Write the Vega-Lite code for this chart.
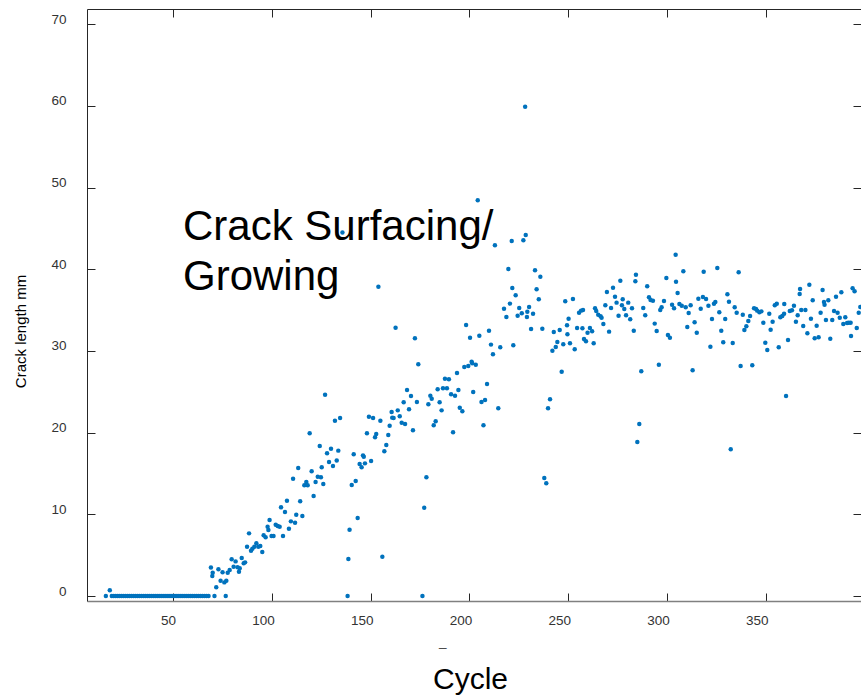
{
  "$schema": "https://vega.github.io/schema/vega-lite/v6.json",
  "autosize": "none",
  "width": 774,
  "height": 592,
  "padding": {"left": 87, "top": 9, "right": 0, "bottom": 94},
  "background": "white",
  "config": {
    "view": {"stroke": null},
    "font": "Liberation Sans",
    "axis": {"grid": false, "labelFont": "Liberation Sans", "titleFont": "Liberation Sans"}
  },
  "datasets": {
    "crack": [
      {"cycle":16,"crack":0},{"cycle":18,"crack":0.7},{"cycle":19,"crack":0},{"cycle":20,"crack":0},{"cycle":21,"crack":0},{"cycle":22,"crack":0},{"cycle":23,"crack":0},{"cycle":24,"crack":0},{"cycle":25,"crack":0},{"cycle":26,"crack":0},{"cycle":27,"crack":0},{"cycle":28,"crack":0},{"cycle":29,"crack":0},{"cycle":30,"crack":0},{"cycle":31,"crack":0},{"cycle":32,"crack":0},{"cycle":33,"crack":0},{"cycle":34,"crack":0},{"cycle":35,"crack":0},{"cycle":36,"crack":0},{"cycle":37,"crack":0},{"cycle":38,"crack":0},{"cycle":39,"crack":0},{"cycle":40,"crack":0},{"cycle":41,"crack":0},{"cycle":42,"crack":0},{"cycle":43,"crack":0},{"cycle":44,"crack":0},{"cycle":45,"crack":0},{"cycle":46,"crack":0},{"cycle":47,"crack":0},{"cycle":48,"crack":0},{"cycle":49,"crack":0},{"cycle":50,"crack":0},{"cycle":51,"crack":0},{"cycle":52,"crack":0},{"cycle":53,"crack":0},{"cycle":54,"crack":0},{"cycle":55,"crack":0},{"cycle":56,"crack":0},{"cycle":57,"crack":0},{"cycle":58,"crack":0},{"cycle":59,"crack":0},{"cycle":60,"crack":0},{"cycle":61,"crack":0},{"cycle":62,"crack":0},{"cycle":63,"crack":0},{"cycle":64,"crack":0},{"cycle":65,"crack":0},{"cycle":66,"crack":0},{"cycle":67,"crack":0},{"cycle":68,"crack":0},
      {"cycle":69.2,"crack":3.5},{"cycle":70.1,"crack":2.86},{"cycle":69.9,"crack":2.45},{"cycle":71.0,"crack":0},{"cycle":76.7,"crack":0},{"cycle":71.9,"crack":1.06},{"cycle":73.0,"crack":3.27},{"cycle":74.1,"crack":1.88},{"cycle":75.1,"crack":2.9},{"cycle":76.0,"crack":1.67},{"cycle":77.0,"crack":1.88},{"cycle":77.7,"crack":2.86},{"cycle":78.7,"crack":3.18},{"cycle":79.7,"crack":4.49},{"cycle":80.7,"crack":3.59},{"cycle":81.7,"crack":4.24},{"cycle":82.7,"crack":3.51},{"cycle":83.4,"crack":2.98},{"cycle":83.8,"crack":3.39},{"cycle":84.8,"crack":4.65},{"cycle":85.8,"crack":4.0},{"cycle":86.5,"crack":4.12},{"cycle":87.5,"crack":6.04},{"cycle":88.5,"crack":7.67},{"cycle":89.5,"crack":5.55},{"cycle":90.2,"crack":5.8},{"cycle":91.2,"crack":6.04},{"cycle":92.2,"crack":6.45},{"cycle":93.2,"crack":6.04},{"cycle":94.2,"crack":6.12},{"cycle":95.2,"crack":5.39},{"cycle":95.9,"crack":7.43},{"cycle":96.9,"crack":7.19},{"cycle":97.9,"crack":8.49},{"cycle":98.3,"crack":8.08},{"cycle":98.9,"crack":9.3},{"cycle":99.9,"crack":7.35},{"cycle":100.9,"crack":7.35},{"cycle":102.0,"crack":8.73},{"cycle":103.0,"crack":8.57},{"cycle":104.0,"crack":8.49},{"cycle":104.7,"crack":10.86},{"cycle":105.7,"crack":7.35},{"cycle":106.7,"crack":10.29},{"cycle":107.7,"crack":11.67},{"cycle":108.7,"crack":8.24},{"cycle":109.7,"crack":9.14},{"cycle":110.8,"crack":14.37},{"cycle":111.8,"crack":8.98},{"cycle":112.4,"crack":9.96},{"cycle":113.4,"crack":15.67},{"cycle":114.4,"crack":11.6},{"cycle":115.5,"crack":9.8},{"cycle":116.5,"crack":13.55},{"cycle":117.5,"crack":13.96},{"cycle":118.2,"crack":13.55},{"cycle":119.2,"crack":19.92},{"cycle":120.2,"crack":15.27},{"cycle":121.2,"crack":12.24},{"cycle":122.2,"crack":13.96},{"cycle":123.3,"crack":14.61},{"cycle":124.3,"crack":18.37},{"cycle":124.9,"crack":14.53},{"cycle":125.3,"crack":15.76},{"cycle":126.1,"crack":13.71},{"cycle":127.0,"crack":24.65},{"cycle":128.0,"crack":17.47},{"cycle":129.0,"crack":16.4},{"cycle":130.0,"crack":18.04},{"cycle":131.0,"crack":15.92},{"cycle":132.0,"crack":21.45},{"cycle":132.9,"crack":16.6},{"cycle":133.7,"crack":17.8},{"cycle":134.6,"crack":21.8},{"cycle":135.8,"crack":44.5},
      {"cycle":138.4,"crack":0},{"cycle":138.8,"crack":4.53},{"cycle":139.4,"crack":8.12},{"cycle":140.5,"crack":13.59},{"cycle":141.5,"crack":17.35},{"cycle":142.5,"crack":14.08},{"cycle":143.5,"crack":9.55},{"cycle":144.5,"crack":16.16},{"cycle":145.5,"crack":15.76},{"cycle":146.2,"crack":17.22},{"cycle":146.6,"crack":17.06},{"cycle":147.2,"crack":16.24},{"cycle":148.2,"crack":19.92},{"cycle":149.2,"crack":21.96},{"cycle":150.3,"crack":16.53},{"cycle":151.3,"crack":21.8},{"cycle":152.3,"crack":19.43},{"cycle":152.9,"crack":19.84},{"cycle":154.0,"crack":37.87},{"cycle":155.0,"crack":21.47},{"cycle":156.0,"crack":4.82},{"cycle":157.0,"crack":17.72},{"cycle":158.0,"crack":18.49},{"cycle":159.0,"crack":19.71},{"cycle":159.7,"crack":20.85},{"cycle":160.7,"crack":22.53},{"cycle":161.0,"crack":21.84},{"cycle":161.7,"crack":21.8},{"cycle":162.7,"crack":32.85},{"cycle":163.8,"crack":22.73},{"cycle":164.8,"crack":22.0},{"cycle":165.8,"crack":21.22},{"cycle":166.8,"crack":23.71},{"cycle":167.5,"crack":21.06},{"cycle":168.5,"crack":25.22},{"cycle":169.5,"crack":22.86},{"cycle":170.5,"crack":24.49},{"cycle":171.5,"crack":20.29},{"cycle":172.5,"crack":31.55},{"cycle":173.5,"crack":23.75},{"cycle":174.2,"crack":28.37},{"cycle":176.3,"crack":0},{"cycle":177.2,"crack":10.81},{"cycle":178.3,"crack":14.53},{"cycle":179.3,"crack":23.47},{"cycle":180.3,"crack":24.53},{"cycle":181.0,"crack":24.16},{"cycle":182.0,"crack":20.9},{"cycle":183.0,"crack":21.39},{"cycle":184.0,"crack":25.31},{"cycle":185.0,"crack":23.71},{"cycle":186.0,"crack":22.73},{"cycle":186.7,"crack":25.43},{"cycle":187.7,"crack":26.61},{"cycle":188.7,"crack":25.43},{"cycle":189.7,"crack":26.53},{"cycle":190.8,"crack":24.69},{"cycle":191.8,"crack":20.04},{"cycle":192.8,"crack":24.53},{"cycle":193.8,"crack":27.3},{"cycle":194.5,"crack":25.22},{"cycle":195.2,"crack":23.06},{"cycle":196.5,"crack":22.61},{"cycle":197.5,"crack":28.04},{"cycle":198.4,"crack":33.18},{"cycle":199.5,"crack":28.16},{"cycle":200.4,"crack":31.63},{"cycle":201.2,"crack":28.69},{"cycle":201.5,"crack":28.49},{"cycle":202.0,"crack":24.98},{"cycle":203.3,"crack":28.32},{"cycle":204.3,"crack":48.45},{"cycle":205.1,"crack":31.87},{"cycle":206.2,"crack":23.75},{"cycle":207.2,"crack":20.9},{"cycle":208.0,"crack":24.0},{"cycle":209.0,"crack":25.96},{"cycle":210.0,"crack":32.49},{"cycle":211.0,"crack":30.78},{"cycle":212.0,"crack":29.59},{"cycle":213.0,"crack":42.94},{"cycle":214.7,"crack":22.98},{"cycle":215.7,"crack":30.45},{"cycle":217.6,"crack":35.18},{"cycle":218.8,"crack":34.16},{"cycle":219.8,"crack":40.04},{"cycle":220.6,"crack":35.8},{"cycle":221.5,"crack":43.47},{"cycle":221.8,"crack":37.71},{"cycle":222.3,"crack":30.69},{"cycle":223.5,"crack":36.82},{"cycle":224.5,"crack":34.32},{"cycle":225.3,"crack":35.26},{"cycle":226.6,"crack":34.61},{"cycle":227.4,"crack":43.55},{"cycle":228.3,"crack":59.9},{"cycle":228.6,"crack":44.2},{"cycle":229.2,"crack":34.16},{"cycle":229.4,"crack":34.81},{"cycle":230.3,"crack":35.39},{"cycle":231.3,"crack":32.69},{"cycle":232.3,"crack":34.57},{"cycle":233.3,"crack":39.88},{"cycle":234.1,"crack":37.55},{"cycle":235.2,"crack":36.33},{"cycle":236.0,"crack":39.1},{"cycle":237.0,"crack":32.73},{"cycle":238.0,"crack":14.45},{"cycle":239.0,"crack":13.8},{"cycle":239.9,"crack":22.98},{"cycle":240.9,"crack":24.08},{"cycle":242.1,"crack":30.04},{"cycle":242.8,"crack":32.33},{"cycle":243.8,"crack":30.49},{"cycle":244.6,"crack":31.1},{"cycle":245.8,"crack":32.57},{"cycle":246.8,"crack":27.47},{"cycle":247.6,"crack":30.82},{"cycle":248.6,"crack":36.08},{"cycle":249.5,"crack":33.14},{"cycle":249.7,"crack":32.04},{"cycle":250.3,"crack":33.96},{"cycle":251.0,"crack":30.94},
      {"cycle":252.5,"crack":36.37},{"cycle":253.4,"crack":30.2},{"cycle":254.6,"crack":32.82},{"cycle":255.6,"crack":34.69},{"cycle":256.6,"crack":34.94},{"cycle":257.3,"crack":32.78},{"cycle":257.6,"crack":35.02},{"cycle":258.1,"crack":31.47},{"cycle":259.1,"crack":31.18},{"cycle":259.9,"crack":32.24},{"cycle":261.1,"crack":32.82},{"cycle":262.2,"crack":32.41},{"cycle":263.0,"crack":30.94},{"cycle":263.7,"crack":35.22},{"cycle":264.3,"crack":34.9},{"cycle":265.3,"crack":34.44},{"cycle":266.5,"crack":34.25},{"cycle":267.0,"crack":34.08},{"cycle":267.9,"crack":33.3},{"cycle":268.9,"crack":35.59},{"cycle":269.7,"crack":37.22},{"cycle":270.8,"crack":32.37},{"cycle":271.8,"crack":35.26},{"cycle":272.8,"crack":37.75},{"cycle":273.8,"crack":36.65},{"cycle":274.6,"crack":35.92},{"cycle":275.6,"crack":34.32},{"cycle":276.5,"crack":38.61},{"cycle":277.3,"crack":35.59},{"cycle":277.7,"crack":36.33},{"cycle":278.5,"crack":35.14},{"cycle":279.4,"crack":34.37},{"cycle":280.5,"crack":35.92},{"cycle":281.5,"crack":33.88},{"cycle":282.4,"crack":35.22},{"cycle":283.3,"crack":32.49},{"cycle":284.1,"crack":38.53},{"cycle":284.4,"crack":39.34},{"cycle":285.1,"crack":18.86},{"cycle":286.1,"crack":21.06},{"cycle":287.1,"crack":27.51},{"cycle":288.1,"crack":35.26},{"cycle":289.1,"crack":34.37},{"cycle":290.1,"crack":37.92},{"cycle":291.0,"crack":36.57},{"cycle":291.8,"crack":36.24},{"cycle":293.0,"crack":36.16},{"cycle":293.9,"crack":33.35},{"cycle":294.9,"crack":32.45},{"cycle":296.0,"crack":28.32},{"cycle":296.7,"crack":35.02},{"cycle":297.4,"crack":35.35},{"cycle":298.6,"crack":36.12},{"cycle":299.8,"crack":38.94},{"cycle":300.6,"crack":31.96},{"cycle":301.6,"crack":31.63},{"cycle":302.7,"crack":35.67},{"cycle":303.7,"crack":35.22},{"cycle":304.5,"crack":41.79},{"cycle":304.7,"crack":38.49},{"cycle":305.5,"crack":37.1},{"cycle":306.4,"crack":35.75},{"cycle":307.6,"crack":35.55},{"cycle":308.4,"crack":39.76},{"cycle":309.6,"crack":35.35},{"cycle":310.4,"crack":32.94},{"cycle":311.1,"crack":34.65},{"cycle":312.1,"crack":35.59},{"cycle":313.1,"crack":27.63},{"cycle":314.1,"crack":33.51},{"cycle":315.2,"crack":32.24},{"cycle":316.0,"crack":36.4},{"cycle":317.2,"crack":35.18},{"cycle":318.3,"crack":36.61},{"cycle":318.7,"crack":39.71},
      {"cycle":319.9,"crack":36.37},{"cycle":321.1,"crack":35.55},{"cycle":322.1,"crack":30.53},{"cycle":322.9,"crack":33.92},{"cycle":323.9,"crack":35.79},{"cycle":324.6,"crack":36.0},{"cycle":325.6,"crack":40.16},{"cycle":326.6,"crack":34.73},{"cycle":327.6,"crack":32.49},{"cycle":328.6,"crack":31.06},{"cycle":329.6,"crack":33.92},{"cycle":330.7,"crack":36.94},{"cycle":331.5,"crack":36.04},{"cycle":332.4,"crack":17.96},{"cycle":333.4,"crack":30.98},{"cycle":334.4,"crack":35.35},{"cycle":335.4,"crack":34.69},{"cycle":336.4,"crack":39.63},{"cycle":337.4,"crack":28.16},{"cycle":338.5,"crack":34.44},{"cycle":339.3,"crack":32.57},{"cycle":340.3,"crack":33.02},{"cycle":341.3,"crack":33.67},{"cycle":342.2,"crack":34.28},{"cycle":343.3,"crack":28.25},{"cycle":344.2,"crack":35.22},{"cycle":345.2,"crack":35.14},{"cycle":345.8,"crack":34.94},{"cycle":346.9,"crack":34.73},{"cycle":347.9,"crack":34.85},{"cycle":348.9,"crack":33.47},{"cycle":349.9,"crack":31.02},{"cycle":350.9,"crack":30.12},{"cycle":351.9,"crack":34.57},{"cycle":352.6,"crack":32.61},{"cycle":353.6,"crack":33.59},{"cycle":354.7,"crack":35.59},{"cycle":355.7,"crack":35.79},{"cycle":356.7,"crack":30.45},{"cycle":357.5,"crack":34.12},{"cycle":358.5,"crack":34.28},{"cycle":359.4,"crack":34.57},{"cycle":359.5,"crack":35.75},{"cycle":360.4,"crack":24.49},{"cycle":361.4,"crack":31.35},{"cycle":362.3,"crack":34.9},{"cycle":363.4,"crack":34.98},{"cycle":364.4,"crack":35.55},{"cycle":365.4,"crack":33.59},{"cycle":366.3,"crack":34.37},{"cycle":367.3,"crack":36.98},{"cycle":367.5,"crack":37.59},{"cycle":368.1,"crack":35.02},{"cycle":369.1,"crack":33.06},{"cycle":370.2,"crack":35.02},{"cycle":371.2,"crack":32.16},{"cycle":372.2,"crack":38.12},{"cycle":373.0,"crack":33.96},{"cycle":373.9,"crack":36.2},{"cycle":374.9,"crack":31.55},{"cycle":375.9,"crack":33.1},{"cycle":376.9,"crack":31.67},{"cycle":377.9,"crack":34.69},{"cycle":378.9,"crack":37.47},{"cycle":379.6,"crack":36.0},{"cycle":379.9,"crack":35.67},{"cycle":380.6,"crack":33.8},{"cycle":381.8,"crack":36.2},{"cycle":382.8,"crack":31.51},{"cycle":383.8,"crack":33.8},{"cycle":384.7,"crack":34.9},{"cycle":385.7,"crack":36.65},{"cycle":386.5,"crack":34.69},{"cycle":387.6,"crack":34.08},{"cycle":388.4,"crack":37.18},{"cycle":389.4,"crack":33.3},{"cycle":390.4,"crack":34.12},{"cycle":391.3,"crack":33.43},{"cycle":392.1,"crack":33.47},{"cycle":393.1,"crack":33.47},{"cycle":393.3,"crack":31.84},{"cycle":394.1,"crack":37.67},{"cycle":395.1,"crack":37.31},{"cycle":396.2,"crack":32.82},{"cycle":397.2,"crack":34.69},{"cycle":398.0,"crack":35.39}
    ],
    "notes": [
      {"cycle": 55.06, "crack": 43.6, "label": ["Crack Surfacing/", "Growing"]}
    ],
    "marks": [
      {"cycle": 184.7, "crack": -6.06, "label": "_"}
    ]
  },
  "layer": [
    {
      "data": {"name": "crack"},
      "mark": {"type": "point", "filled": true, "shape": "circle", "size": 20, "color": "#0072BD", "opacity": 1, "strokeWidth": 0},
      "encoding": {
        "x": {
          "field": "cycle", "type": "quantitative",
          "scale": {"domain": [6.456, 398.35], "nice": false, "zero": false},
          "axis": {
            "orient": "bottom", "values": [50, 100, 150, 200, 250, 300, 350],
            "title": "Cycle", "titleFontSize": 30, "titleFontWeight": "normal", "titleColor": "#000000",
            "titleX": 383, "titleY": 87, "titleAlign": "center", "titleBaseline": "alphabetic",
            "tickSize": -8, "tickColor": "#262626", "tickWidth": 1,
            "domainColor": "#808080", "domainWidth": 1.6,
            "labelFontSize": 13.5, "labelColor": "#333333", "labelPadding": 31,
            "labelBaseline": "alphabetic", "labelAlign": "right", "labelOffset": 2.5, "labelFlush": false
          }
        },
        "y": {
          "field": "crack", "type": "quantitative",
          "scale": {"domain": [-0.61, 71.87], "nice": false, "zero": false},
          "axis": {
            "orient": "left", "values": [0, 10, 20, 30, 40, 50, 60, 70],
            "title": "Crack length mm", "titleFontSize": 15, "titleFontWeight": "normal", "titleColor": "#000000",
            "titleAngle": -90, "titleX": -67, "titleY": 322, "titleAlign": "center", "titleBaseline": "middle",
            "tickSize": -8, "tickColor": "#262626", "tickWidth": 1,
            "domainColor": "#262626", "domainWidth": 1,
            "labelFontSize": 13.5, "labelColor": "#333333", "labelPadding": 29,
            "labelBaseline": "alphabetic", "labelAlign": "right", "labelOffset": -1, "labelFlush": false
          }
        }
      }
    },
    {
      "data": {"name": "notes"},
      "mark": {"type": "text", "align": "left", "baseline": "alphabetic", "fontSize": 42, "lineHeight": 50, "color": "#000000", "font": "Liberation Sans"},
      "encoding": {
        "x": {
          "field": "cycle", "type": "quantitative",
          "scale": {"domain": [6.456, 398.35], "nice": false, "zero": false},
          "axis": {"orient": "top", "values": [50, 100, 150, 200, 250, 300, 350], "labels": false, "title": null,
                   "tickSize": -8, "tickColor": "#262626", "domainColor": "#262626", "domainWidth": 1}
        },
        "y": {
          "field": "crack", "type": "quantitative",
          "scale": {"domain": [-0.61, 71.87], "nice": false, "zero": false},
          "axis": {"orient": "right", "values": [0, 10, 20, 30, 40, 50, 60, 70], "labels": false, "title": null,
                   "tickSize": -8, "tickColor": "#262626", "domainColor": "#262626", "domainWidth": 1}
        },
        "text": {"field": "label"}
      }
    },
    {
      "data": {"name": "marks"},
      "mark": {"type": "text", "align": "left", "baseline": "alphabetic", "fontSize": 13.5, "color": "#333333", "font": "Liberation Sans"},
      "encoding": {
        "x": {"field": "cycle", "type": "quantitative", "axis": null},
        "y": {"field": "crack", "type": "quantitative", "axis": null},
        "text": {"field": "label"}
      }
    }
  ],
  "resolve": {"axis": {"x": "independent", "y": "independent"}}
}
